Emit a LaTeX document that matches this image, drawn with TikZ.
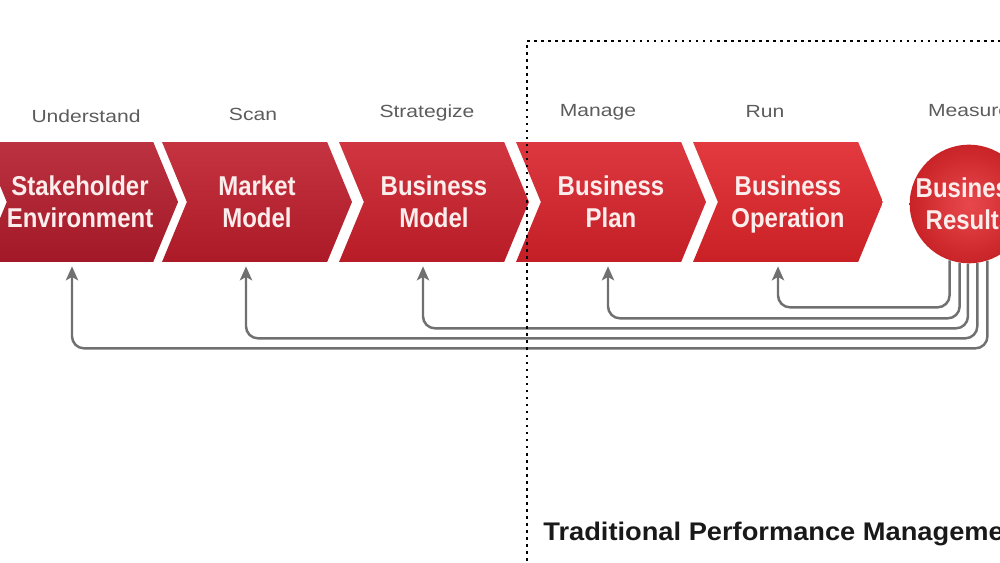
\documentclass[tikz,border=0pt]{standalone}
\usepackage{fontspec}
\setmainfont{Liberation Sans}
\newfontfamily\chevfont[FakeStretch=0.88]{Liberation Sans}
\newfontfamily\labfont[FakeStretch=1.2]{Liberation Sans}
\newfontfamily\framefont[FakeStretch=1.07]{Liberation Sans}
\usetikzlibrary{shapes.symbols, arrows.meta, calc}

\definecolor{chevA}{HTML}{B41B2B}
\definecolor{chevB}{HTML}{BF1D2C}
\definecolor{chevC}{HTML}{CB1F2B}
\definecolor{chevD}{HTML}{D9222A}
\definecolor{chevE}{HTML}{E0242A}
\definecolor{resred}{HTML}{E4282D}
\definecolor{chevtext}{HTML}{FCEDED}
\definecolor{labgray}{HTML}{5C5C5C}
\definecolor{fbgray}{HTML}{707070}

\begin{document}
\begin{tikzpicture}[x=0.02cm, y=-0.02cm,
    chev/.style={signal, signal to=east, signal from=west, signal pointer angle=135,
      minimum width=3.8cm, minimum height=2.4cm, inner sep=0pt, align=center,
      text=chevtext, font=\chevfont\bfseries\fontsize{15.5}{18.2}\selectfont,
      execute at begin node=\vphantom{k}},
    steplabel/.style={text=labgray, font=\labfont\fontsize{10}{12}\selectfont},
    fb/.style={draw=fbgray, line width=1.4pt, rounded corners=0.24cm,
      -{Stealth[length=8pt, width=7pt, inset=2pt]}},
    frame/.style={line width=1.6pt, dash pattern=on 1.5pt off 2.5pt}]
  \useasboundingbox (0,0) rectangle (1000,563);
  \clip (0,0) rectangle (1000,563);

  % value chain
  \foreach \nm/\cx/\col/\txt in {stk/80/chevA/{Stakeholder\\Environment},
      mkt/257/chevB/{Market\\Model}, bmod/434/chevC/{Business\\Model},
      plan/611/chevD/{Business\\Plan}, ops/788/chevE/{Business\\\smash{Operation}}}
    \node[chev, top color=\col!90!white, bottom color=\col!90!black] (\nm) at (\cx,202) {\txt};
  \node[circle, minimum size=2.36cm, inner sep=0pt, align=center, text=chevtext,
    inner color=resred!85!white, outer color=resred!88!black,
    font=\chevfont\bfseries\fontsize{15.5}{18.2}\selectfont] (res) at (969,204) {Business\\Results};

  % step names
  \node[steplabel] (und) at (86,116) {Understand};
  \node[steplabel] (scan) at (253,114) {Scan};
  \node[steplabel] (strat) at (427,113) {Strategize};
  \node[steplabel] (man) at (598,112) {Manage};
  \node[steplabel] (run) at (765,112) {Run};
  \node[steplabel] (meas) at (969,111) {Measure};

  % feedback from results
  \foreach \a/\t/\o/\y in {251/ops/-10/45, 261/plan/-3/56, 269/bmod/-11/66,
      278/mkt/-11/76, 288/stk/-8/86}
    \draw[fb] (res.\a) |- ($(\t.south)+(\o,\y)$) -- ($(\t.south)+(\o,4)$);

  % traditional scope
  \draw[frame] (527,575) |- (1010,41);
  \node[anchor=base west, inner sep=0pt, text=black!90,
    font=\framefont\bfseries\fontsize{14.5}{17}\selectfont]
    (tpm) at (543,540) {Traditional Performance Management};
\end{tikzpicture}
\end{document}
